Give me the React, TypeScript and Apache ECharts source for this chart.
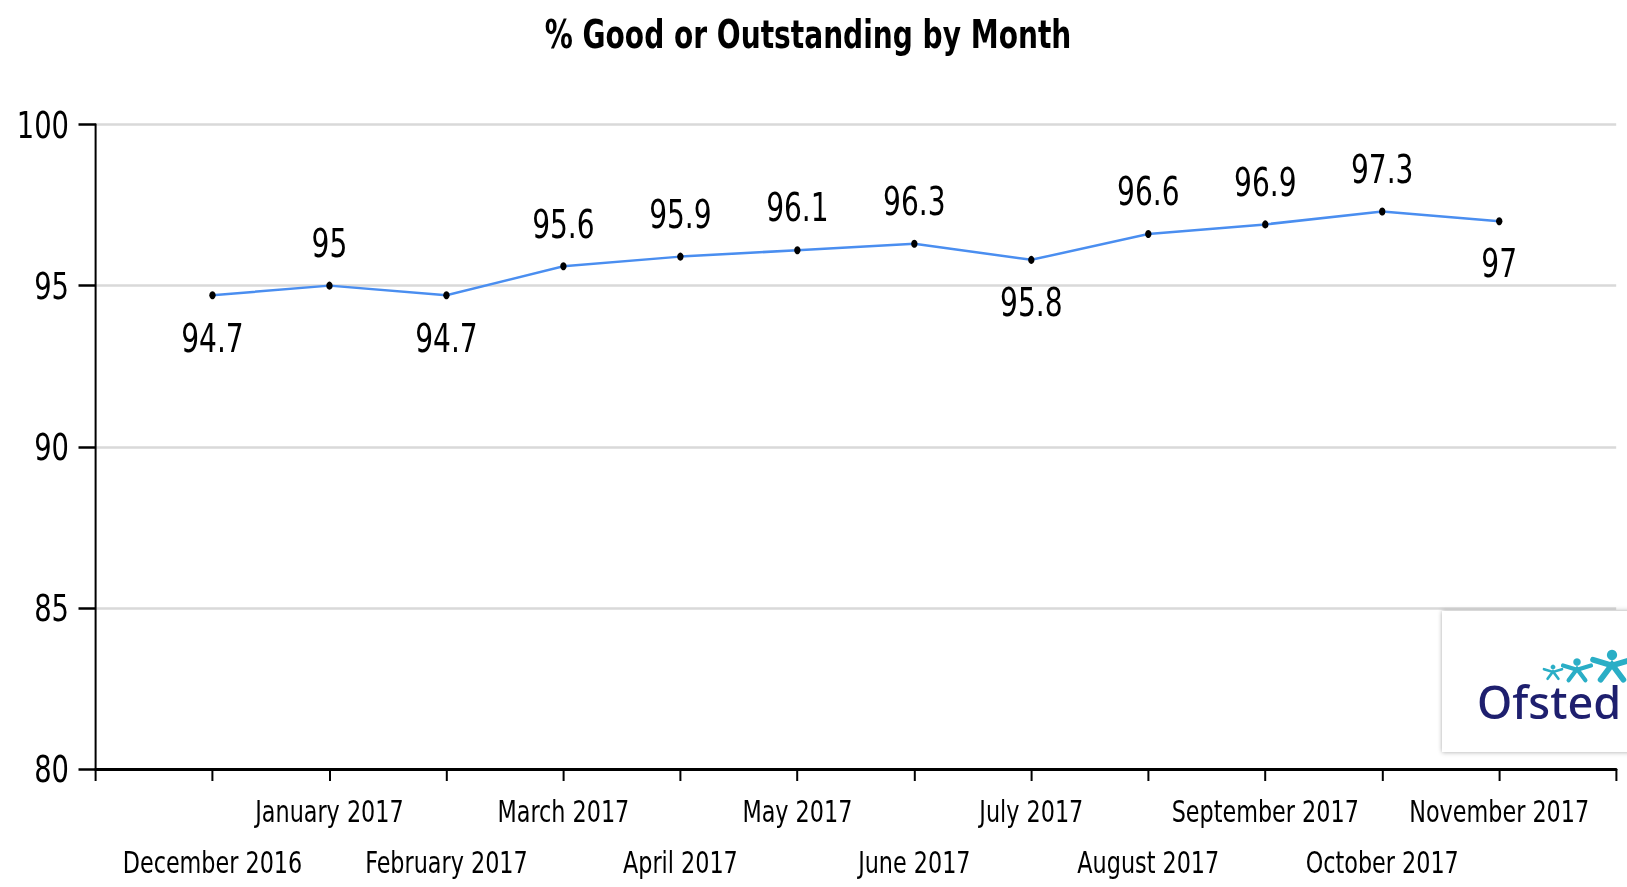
import React, { useEffect, useRef } from "react";
import * as echarts from "echarts";

const categories = [
  "",
  "December 2016",
  "January 2017",
  "February 2017",
  "March 2017",
  "April 2017",
  "May 2017",
  "June 2017",
  "July 2017",
  "August 2017",
  "September 2017",
  "October 2017",
  "November 2017",
  "",
];
const values: (number | null)[] = [null, 94.7, 95, 94.7, 95.6, 95.9, 96.1, 96.3, 95.8, 96.6, 96.9, 97.3, 97, null];
const labelBelow = [false, true, false, true, false, false, false, false, true, false, false, false, true, false];
const yTicks = [80, 85, 90, 95, 100];

const FONT = "'Liberation Sans Narrow', 'Arial Narrow', 'DejaVu Sans Condensed', sans-serif";
// the reference uses a tall, narrow typeface: the chart is laid out wider and squeezed horizontally
const SX = 0.8;
const W = 1627;
const H = 887;
const px = (x: number) => x / SX;

export default function App() {
  const ref = useRef<HTMLDivElement>(null);
  useEffect(() => {
    if (!ref.current) return;
    const chart = echarts.init(ref.current, undefined, { renderer: "svg" });
    const seriesData = values.map((v, i) =>
      v === null
        ? null
        : {
            value: v,
            label: labelBelow[i]
              ? { position: "bottom", distance: 19 }
              : { position: "top", distance: 19 },
          }
    );
    const teal = "#2aaec6";
    const figure = (cx: number, cy: number, s: number) => [
      { type: "circle", z: 102, shape: { cx, cy: cy - 0.5 * s, r: 0.27 * s }, style: { fill: teal } },
      {
        type: "polyline",
        z: 102,
        shape: { points: [[cx - s, cy - 0.25 * s], [cx, cy + 0.05 * s], [cx + s, cy - 0.25 * s]] },
        style: { stroke: teal, lineWidth: 0.3 * s, fill: "none", lineCap: "round" },
      },
      {
        type: "polyline",
        z: 102,
        shape: { points: [[cx - 0.6 * s, cy + 0.8 * s], [cx, cy], [cx + 0.6 * s, cy + 0.8 * s]] },
        style: { stroke: teal, lineWidth: 0.3 * s, fill: "none", lineCap: "round" },
      },
    ];
    chart.setOption({
      animation: false,
      backgroundColor: "#ffffff",
      title: {
        text: "% Good or Outstanding by Month",
        left: px(804),
        top: 10,
        textAlign: "center",
        textStyle: { fontFamily: FONT, fontSize: 39, fontWeight: "bold", color: "#000" },
      },
      grid: { left: px(95.5), right: px(11), top: 124.5, bottom: 118, containLabel: false },
      xAxis: [
        {
          type: "category",
          data: categories,
          boundaryGap: false,
          axisLine: { show: true, lineStyle: { color: "#000", width: 3 } },
          axisTick: { show: true, length: 12, interval: 0, lineStyle: { color: "#000", width: 2.5 } },
          axisLabel: {
            interval: 0,
            margin: 27,
            fontFamily: FONT,
            fontSize: 31,
            color: "#000",
            formatter: (v: string, i: number) => (i % 2 === 0 ? v : ""),
          },
          splitLine: { show: false },
        },
        {
          type: "category",
          data: categories,
          boundaryGap: false,
          position: "bottom",
          axisLine: { show: false },
          axisTick: { show: false },
          axisLabel: {
            interval: 0,
            margin: 78,
            fontFamily: FONT,
            fontSize: 31,
            color: "#000",
            formatter: (v: string, i: number) => (i % 2 === 1 ? v : ""),
          },
          splitLine: { show: false },
        },
      ],
      yAxis: {
        type: "value",
        min: 80,
        max: 100,
        interval: 5,
        axisLine: { show: true, lineStyle: { color: "#000", width: 2.5 } },
        axisTick: { show: true, length: px(17), lineStyle: { color: "#000", width: 2.5 } },
        axisLabel: {
          margin: px(26.5),
          fontFamily: FONT,
          fontSize: 38,
          color: "#000",
          formatter: (v: number) => (yTicks.includes(v) ? String(v) : ""),
        },
        splitLine: { show: true, lineStyle: { color: "#d9d9d9", width: 2.5 } },
      },
      series: [
        {
          type: "line",
          xAxisIndex: 0,
          data: seriesData,
          symbol: "circle",
          symbolSize: 8,
          itemStyle: { color: "#000" },
          lineStyle: { color: "#4a8ef0", width: 2.5 },
          label: {
            show: true,
            fontFamily: FONT,
            fontSize: 39,
            color: "#000",
          },
        },
      ],
      graphic: [
        {
          type: "rect",
          z: 100,
          shape: { x: px(1442), y: 611, width: 260, height: 141 },
          style: { fill: "#fff", shadowBlur: 5, shadowColor: "rgba(0,0,0,0.35)" },
        },
        {
          type: "group",
          z: 101,
          x: px(1477),
          y: 0,
          scaleX: 1 / SX,
          children: [
            {
              type: "text",
              z: 101,
              x: 0,
              y: 701,
              style: {
                text: "Ofsted",
                fontFamily: "'Noto Sans', sans-serif",
                fontSize: 45,
                fontWeight: 500,
                fill: "#1e1f6e",
                verticalAlign: "middle",
              },
            },
            ...figure(76, 671.5, 9),
            ...figure(100, 669, 14),
            ...figure(135, 664.5, 19),
          ],
        },
      ],
    });
    return () => chart.dispose();
  }, []);
  return (
    <div
      ref={ref}
      style={{
        position: "absolute",
        left: 0,
        top: 0,
        width: W / SX,
        height: H,
        transform: `scaleX(${SX})`,
        transformOrigin: "0 0",
      }}
    />
  );
}
